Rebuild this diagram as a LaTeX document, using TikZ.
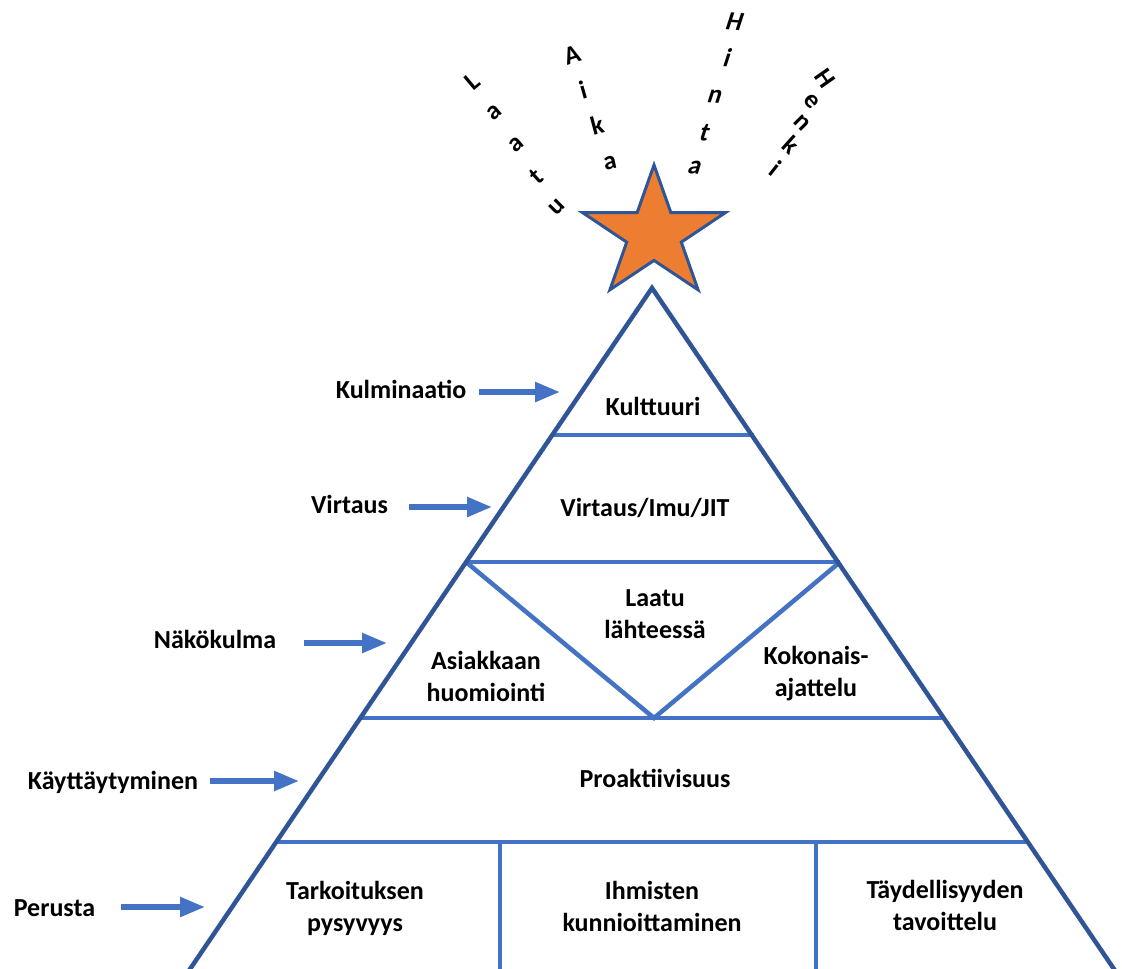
\documentclass[tikz,border=0pt]{standalone}
\usepackage{fontspec}
\setmainfont{Carlito}
\usetikzlibrary{arrows.meta,calc}
\definecolor{edgeblue}{HTML}{2F5597}
\definecolor{lineblue}{HTML}{4472C4}
\definecolor{starorange}{HTML}{ED7D31}
\tikzset{
  boxtext/.style={font=\bfseries\fontsize{26}{32}\selectfont, align=center, inner sep=0pt, anchor=base},
  sidelabel/.style={font=\bfseries\fontsize{26}{32}\selectfont, inner sep=0pt, anchor=base},
  levelarrow/.style={draw=lineblue, line width=5.5pt, -{Triangle[length=25pt,width=19pt]}},
  divider/.style={draw=lineblue, line width=4.5pt},
  outline/.style={draw=edgeblue, line width=4.5pt, line join=miter},
  arcletter/.style={font=\bfseries\fontsize{26}{26}\selectfont, inner sep=0pt},
  starshape/.style={fill=starorange, draw=edgeblue, line width=3pt, line join=miter}
}
\begin{document}
\begin{tikzpicture}[x=1pt, y=-1pt]
\useasboundingbox (0,0) rectangle (1122,969);

% star on top of the pyramid
\begin{scope}[shift={(654,234)}]
  \draw[starshape] (-90:75 and 69) -- (-54:28.7 and 26.4) -- (-18:75 and 69)
    -- (18:28.7 and 26.4) -- (54:75 and 69) -- (90:28.7 and 26.4)
    -- (126:75 and 69) -- (162:28.7 and 26.4) -- (198:75 and 69)
    -- (234:28.7 and 26.4) -- cycle;
\end{scope}

% words fanning out above the star
\node[arcletter, rotate=40] (la1) at (472,82) {L};
\node[arcletter, rotate=40] (la2) at (494,113) {a};
\node[arcletter, rotate=40] (la3) at (516,145) {a};
\node[arcletter, rotate=42] (la4) at (536,176) {t};
\node[arcletter, rotate=45] (la5) at (557,207) {u};

\node[arcletter, rotate=18] (ai1) at (572,55) {A};
\node[arcletter, rotate=16] (ai2) at (583,90) {i};
\node[arcletter, rotate=15] (ai3) at (597,125) {k};
\node[arcletter, rotate=12] (ai4) at (610,163) {a};

\node[arcletter, xslant=0.25, rotate=-4] (hi1) at (735,22) {H};
\node[arcletter, xslant=0.25, rotate=-4] (hi2) at (728,58) {i};
\node[arcletter, xslant=0.25, rotate=-4] (hi3) at (715,97) {n};
\node[arcletter, xslant=0.25, rotate=-4] (hi4) at (705,133) {t};
\node[arcletter, xslant=0.25, rotate=-4] (hi5) at (695,168) {a};

\node[arcletter, rotate=-55] (he1) at (825,78) {H};
\node[arcletter, rotate=-50] (he2) at (812,101) {e};
\node[arcletter, rotate=-45] (he3) at (802,123) {n};
\node[arcletter, rotate=-42] (he4) at (791,145) {k};
\node[arcletter, rotate=-38] (he5) at (776,168) {i};

% pyramid corners
\coordinate (apex) at (652,288);
\coordinate (bl) at (186,975);
\coordinate (br) at (1118,975);

% inner dividers
\draw[divider] (552,435) -- (754,435);
\draw[divider] (466,562) -- (840,562);
\draw[divider] (360,718) -- (945,718);
\draw[divider] (276,842) -- (1028,842);
\draw[divider] (466,562) -- (654,718) -- (840,562);
\draw[divider] (500,842) -- (500,975);
\draw[divider] (816,842) -- (816,975);

% outer edges
\draw[outline] (bl) -- (apex) -- (br);

% texts inside the pyramid
\node[boxtext] (kult) at (653,415) {Kulttuuri};
\node[boxtext] (virt) at (645,516) {Virtaus/Imu/JIT};
\node[boxtext] (laat) at (655,638) {Laatu\\lähteessä};
\node[boxtext] (asia) at (486,701) {Asiakkaan\\huomiointi};
\node[boxtext] (koko) at (816,696) {Kokonais-\\ajattelu};
\node[boxtext] (proa) at (655,787) {Proaktiivisuus};
\node[boxtext] (tark) at (355,931) {Tarkoituksen\\pysyvyys};
\node[boxtext] (ihmi) at (652,931) {Ihmisten\\kunnioittaminen};
\node[boxtext] (tayd) at (945,930) {Täydellisyyden\\tavoittelu};

% level labels with arrows
\node[sidelabel] (kul) at (401,398) {Kulminaatio};
\node[sidelabel] (vir) at (349.5,513) {Virtaus};
\node[sidelabel] (nak) at (215,648) {Näkökulma};
\node[sidelabel] (kay) at (113,789) {Käyttäytyminen};
\node[sidelabel] (per) at (54.5,916) {Perusta};

\coordinate (kulT) at (560,392);
\coordinate (virT) at (492,507);
\coordinate (nakT) at (387,643);
\coordinate (kayT) at (299,781);
\coordinate (perT) at (205,907);

\draw[levelarrow] ($(kul.east |- kulT)+(13,0)$) -- (kulT);
\draw[levelarrow] ($(vir.east |- virT)+(21,0)$) -- (virT);
\draw[levelarrow] ($(nak.east |- nakT)+(28,0)$) -- (nakT);
\draw[levelarrow] ($(kay.east |- kayT)+(12,0)$) -- (kayT);
\draw[levelarrow] ($(per.east |- perT)+(26,0)$) -- (perT);
\end{tikzpicture}
\end{document}
